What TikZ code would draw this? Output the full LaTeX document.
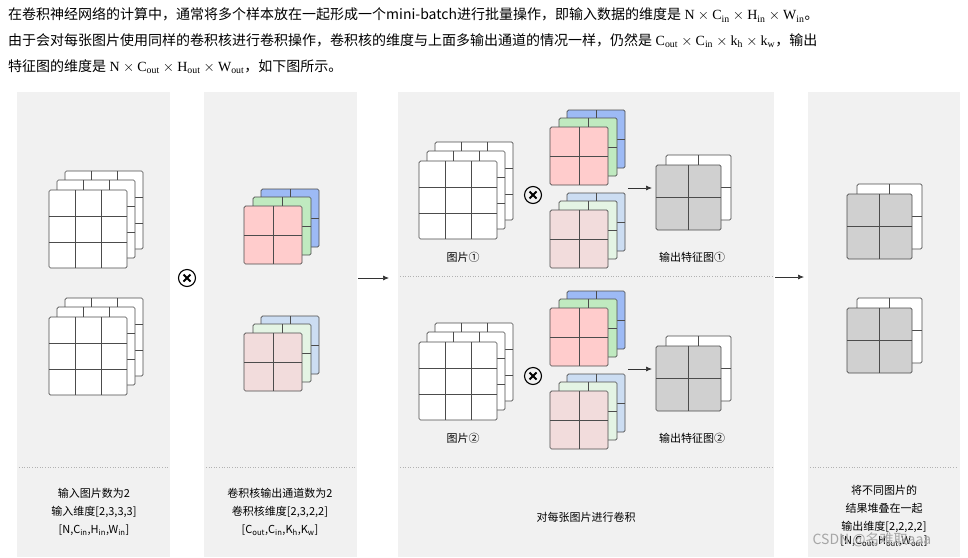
\documentclass[tikz,border=0pt]{standalone}
\usepackage{fontspec}
\setmainfont{Liberation Serif}
\newfontfamily\cjk{Noto Sans CJK SC}
\usetikzlibrary{arrows.meta}
\definecolor{panelbg}{HTML}{F1F1F1}
\definecolor{rA}{HTML}{FFCCCC}\definecolor{gA}{HTML}{C0EAC0}\definecolor{bA}{HTML}{9DBAF5}
\definecolor{rB}{HTML}{F2DCDC}\definecolor{gB}{HTML}{E4F4E4}\definecolor{bB}{HTML}{CCDDF2}
\definecolor{outg}{HTML}{D0D0D0}
\newcommand\mylayer[5]{% x y cell n fill
  \draw[gridline,fill=#5,rounded corners=1.5] (#1,#2) rectangle ++({#3*#4},{#3*#4});
  \foreach \k in {1,...,\numexpr#4-1\relax}{
    \draw[gridline] ({#1+\k*#3},#2) -- ++(0,{#3*#4});
    \draw[gridline] (#1,{#2+\k*#3}) -- ++({#3*#4},0);}}
\newcommand\imgstack[2]{\mylayer{#1+16}{#2-19}{26}{3}{white}\mylayer{#1+8}{#2-10}{26}{3}{white}\mylayer{#1}{#2}{26}{3}{white}}
\newcommand\kerA[2]{\mylayer{#1+17}{#2-17}{29}{2}{bA}\mylayer{#1+9}{#2-9}{29}{2}{gA}\mylayer{#1}{#2}{29}{2}{rA}}
\newcommand\kerB[2]{\mylayer{#1+17}{#2-17}{29}{2}{bB}\mylayer{#1+9}{#2-9}{29}{2}{gB}\mylayer{#1}{#2}{29}{2}{rB}}
\newcommand\outstack[2]{\mylayer{#1+10}{#2-10}{32.5}{2}{white}\mylayer{#1}{#2}{32.5}{2}{outg}}
\newcommand\otm[2]{\node[otimes] (#1) at #2 {};
  \draw[line width=1.8] ($(#1)+(-3.5,-3.5)$) -- ($(#1)+(3.5,3.5)$) ($(#1)+(-3.5,3.5)$) -- ($(#1)+(3.5,-3.5)$);}
\usetikzlibrary{calc}
\begin{document}
\begin{tikzpicture}[x=1pt,y=-1pt,
  gridline/.style={draw=black!70,line width=0.7},
  panel/.style={fill=panelbg,draw=none},
  sep/.style={draw=black!30,dotted,line width=0.6},
  lbl/.style={font=\cjk\fontsize{11}{13}\selectfont,align=center,inner sep=0},
  otimes/.style={circle,draw,line width=1.1,minimum size=17,inner sep=0},
  arr/.style={-{Latex[length=6,width=5]},draw=black!80,line width=0.7}]
\useasboundingbox (0,0) rectangle (968,557);
\fill[white] (0,0) rectangle (968,557);
\node[anchor=west,inner sep=0,font=\fontsize{14}{16}\selectfont] (t1) at (8,15) {\cjk 在卷积神经网络的计算中，通常将多个样本放在一起形成一个mini-batch进行批量操作，即输入数据的维度是\rmfamily\ $\mathrm{N}\times\mathrm{C_{in}}\times\mathrm{H_{in}}\times\mathrm{W_{in}}$\cjk 。};
\node[anchor=west,inner sep=0,font=\fontsize{14}{16}\selectfont] (t2) at (8,41) {\cjk 由于会对每张图片使用同样的卷积核进行卷积操作，卷积核的维度与上面多输出通道的情况一样，仍然是\rmfamily\ $\mathrm{C_{out}}\times\mathrm{C_{in}}\times\mathrm{k_h}\times\mathrm{k_w}$\cjk ，输出};
\node[anchor=west,inner sep=0,font=\fontsize{14}{16}\selectfont] (t3) at (8,67) {\cjk 特征图的维度是\rmfamily\ $\mathrm{N}\times\mathrm{C_{out}}\times\mathrm{H_{out}}\times\mathrm{W_{out}}$\cjk ，如下图所示。};
% panels
\fill[panel] (17,92) rectangle (170,557);
\fill[panel] (204,92) rectangle (357,557);
\fill[panel] (398,92) rectangle (774,557);
\fill[panel] (808,92) rectangle (960,557);
\foreach \a/\b in {19/168,206/355,400/772,810/958}{\draw[sep] (\a,467) -- (\b,467);}
\draw[sep] (400,276) -- (772,276);
% panel 1
\imgstack{49}{190}
\imgstack{49}{317}
\otm{m1}{(187,278)}
% panel 2
\kerA{244}{206}
\kerB{244}{333}
\coordinate (a1s) at (358,278);\coordinate (a1e) at (389,278);
\draw[arr] (a1s) -- (a1e);
% panel 3 top
\imgstack{419}{161}
\otm{m2}{(533,195)}
\kerA{550}{127}
\kerB{550}{210}
\coordinate (a2s) at (628,188);\coordinate (a2e) at (652,188);
\draw[arr] (a2s) -- (a2e);
\outstack{656}{165}
\node[lbl] (l1) at (463,257) {图片①};
\node[lbl] (l2) at (692,257) {输出特征图①};
% panel 3 bottom
\imgstack{419}{342}
\otm{m3}{(533,376)}
\kerA{550}{308}
\kerB{550}{391}
\coordinate (a3s) at (628,369);\coordinate (a3e) at (652,369);
\draw[arr] (a3s) -- (a3e);
\outstack{656}{346}
\node[lbl] (l3) at (463,438) {图片②};
\node[lbl] (l4) at (692,438) {输出特征图②};
\coordinate (a4s) at (775,277);\coordinate (a4e) at (804,277);
\draw[arr] (a4s) -- (a4e);
% panel 4
\outstack{847}{194}
\outstack{847}{308}
% bottom labels
\node[lbl] (b1) at (94,512) {输入图片数为2\\[5pt]输入维度[2,3,3,3]\\[5pt][N,C\textsubscript{in},H\textsubscript{in},W\textsubscript{in}]};
\node[lbl] (b2) at (280,512) {卷积核输出通道数为2\\[5pt]卷积核维度[2,3,2,2]\\[5pt][C\textsubscript{out},C\textsubscript{in},K\textsubscript{h},K\textsubscript{w}]};
\node[lbl] (b3) at (586,517) {对每张图片进行卷积};
\node[lbl] (b4) at (884,516) {将不同图片的\\[5pt]结果堆叠在一起\\[5pt]输出维度[2,2,2,2]\\[1pt][N,C\textsubscript{out},H\textsubscript{out},W\textsubscript{out}]};
\node[font=\cjk\fontsize{14}{16}\selectfont,text=black!35,inner sep=0] (wm) at (872,540) {CSDN @名难取aaa};
\end{tikzpicture}
\end{document}
